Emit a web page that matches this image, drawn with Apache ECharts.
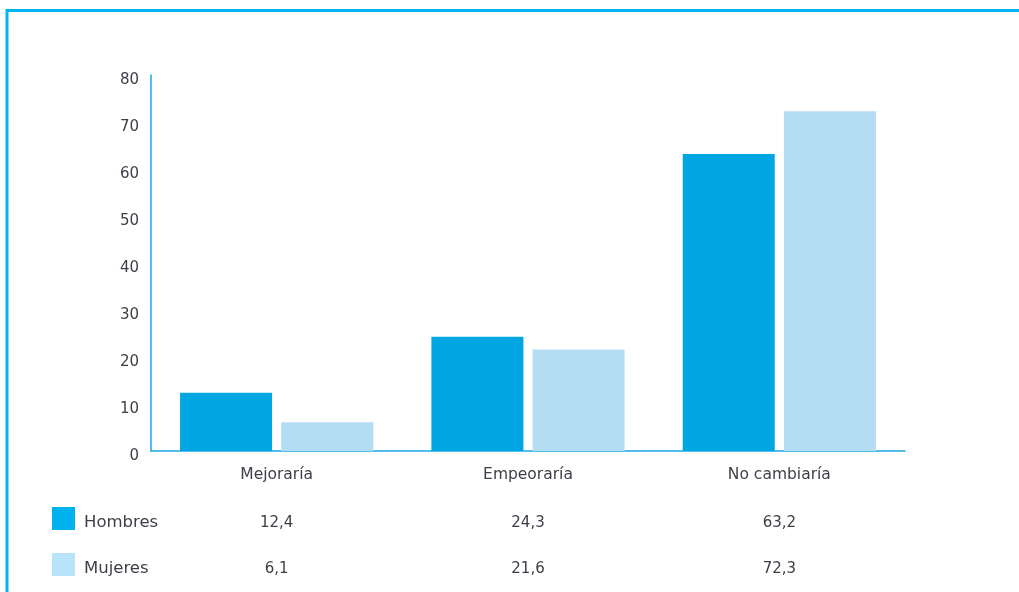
<!DOCTYPE html>
<html>
<head>
<meta charset="utf-8">
<script src="https://cdn.jsdelivr.net/npm/echarts@6/dist/echarts.min.js"></script>
<style>
  html, body { margin: 0; padding: 0; background: #ffffff; }
  #chart { width: 1019px; height: 592px; }
</style>
</head>
<body>
<div id="chart"></div>
<script>
// Opinión por sexo: porcentaje según cada respuesta
const categories = ['Mejoraría', 'Empeoraría', 'No cambiaría'];
const seriesNames = ['Hombres', 'Mujeres'];
const hombres = [12.4, 24.3, 63.2];
const mujeres = [6.1, 21.6, 72.3];
const yTicks = [0, 10, 20, 30, 40, 50, 60, 70, 80];

const FONT = '"DejaVu Sans", "Noto Sans", sans-serif';
const TEXT = '#3e3e48';
const AXIS = '#1aa9e2';
const COL_H = '#00a6e2';
const COL_M = '#b4ddf4';

const fmt = v => v.toFixed(1).replace('.', ',');

const chart = echarts.init(document.getElementById('chart'), null, { renderer: 'canvas' });

// Data table rows under the axis: one extra category axis per series,
// each showing that series' values beneath its category.
function tableAxis(values, offset) {
  return {
    type: 'category',
    data: categories,
    position: 'bottom',
    offset: offset,
    gridIndex: 0,
    axisLine: { show: false },
    axisTick: { show: false },
    axisLabel: {
      margin: 17,
      fontFamily: FONT,
      fontSize: 15,
      color: TEXT,
      formatter: (val, idx) => fmt(values[idx])
    }
  };
}

chart.setOption({
  animation: false,
  grid: { left: 151, right: 114, top: 75, bottom: 141, containLabel: false },
  legend: {
    orient: 'vertical',
    left: 52,
    top: 507,
    padding: 0,
    itemWidth: 23,
    itemHeight: 23,
    itemGap: 22,
    icon: 'rect',
    selectedMode: false,
    data: [
      { name: seriesNames[0], itemStyle: { color: '#00b2ee' } },
      { name: seriesNames[1], itemStyle: { color: '#b8e3f8' } }
    ],
    formatter: name => '{t|' + name + '}',
    textStyle: {
      fontFamily: FONT, fontSize: 16.5, color: TEXT,
      rich: { t: { fontFamily: FONT, fontSize: 16.5, color: TEXT, padding: [8, 0, 0, 4] } }
    }
  },
  xAxis: [
    {
      type: 'category',
      data: categories,
      axisLine: { show: true, lineStyle: { color: AXIS, width: 1.5 } },
      axisTick: { show: false },
      axisLabel: { margin: 16, fontFamily: FONT, fontSize: 15.5, color: TEXT }
    },
    tableAxis(hombres, 48),
    tableAxis(mujeres, 94)
  ],
  yAxis: {
    type: 'value',
    min: yTicks[0],
    max: yTicks[yTicks.length - 1],
    interval: 10,
    axisLine: { show: true, lineStyle: { color: AXIS, width: 1.5 } },
    axisTick: { show: false },
    splitLine: { show: false },
    axisLabel: {
      margin: 12, fontFamily: FONT, fontSize: 15, color: TEXT,
      verticalAlign: 'top', lineHeight: 10
    }
  },
  series: [
    {
      name: seriesNames[0],
      type: 'bar',
      data: hombres,
      barWidth: 92,
      barGap: '10%',
      itemStyle: { color: COL_H },
      emphasis: { disabled: true }
    },
    {
      name: seriesNames[1],
      type: 'bar',
      data: mujeres,
      barWidth: 92,
      barGap: '10%',
      itemStyle: { color: COL_M },
      emphasis: { disabled: true }
    }
  ],
  graphic: [
    // frame: top and left border
    { type: 'line', shape: { x1: 6, y1: 10.5, x2: 1019, y2: 10.5 }, style: { stroke: '#00b5ef', lineWidth: 3 } },
    { type: 'line', shape: { x1: 7, y1: 9, x2: 7, y2: 592 }, style: { stroke: '#00b5ef', lineWidth: 3 } }
  ]
});
</script>
</body>
</html>
